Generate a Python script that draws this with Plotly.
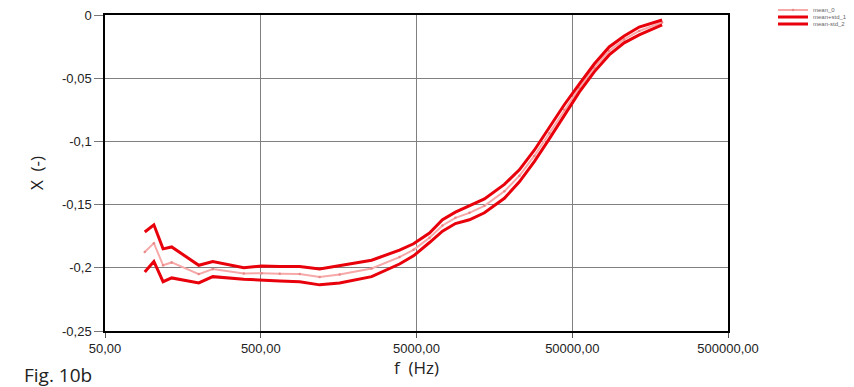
import plotly.graph_objects as go
import numpy as np

freq = [90, 103, 118, 134, 200, 246, 389, 507, 662, 889, 1194, 1604, 2575, 3890, 4785,
        6060, 7340, 8890, 10930, 13650, 18330, 22880, 28530, 35600, 44450, 55460,
        69200, 86300, 107700, 134500, 188800]
upper = [-0.1717, -0.166, -0.185, -0.1835, -0.198, -0.195, -0.200, -0.1985, -0.199, -0.199,
         -0.201, -0.1985, -0.194, -0.186, -0.181, -0.1725, -0.162, -0.156, -0.151, -0.1455,
         -0.134, -0.1225, -0.107, -0.089, -0.071, -0.0546, -0.0388, -0.0253, -0.0166,
         -0.0095, -0.004]
lower = [-0.2033, -0.195, -0.211, -0.208, -0.212, -0.207, -0.209, -0.210, -0.2105, -0.211,
         -0.2135, -0.212, -0.207, -0.197, -0.1905, -0.180, -0.171, -0.165, -0.162, -0.1565,
         -0.145, -0.132, -0.116, -0.098, -0.079, -0.061, -0.045, -0.0316, -0.022,
         -0.0158, -0.0079]
mean = [(u + l) / 2 for u, l in zip(upper, lower)]

xtick_vals = [50, 500, 5000, 50000, 500000]
xtick_text = ["50,00", "500,00", "5000,00", "50000,00", "500000,00"]
ytick_vals = [0, -0.05, -0.1, -0.15, -0.2, -0.25]
ytick_text = ["0", "-0,05", "-0,1", "-0,15", "-0,2", "-0,25"]

W, H = 846, 379  # page body has an 8px margin

fig = go.Figure()
fig.add_trace(go.Scatter(x=freq, y=mean, name="mean_0", mode="lines+markers",
                         line=dict(color="#f7a8a8", width=2),
                         marker=dict(size=2.5, color="#e88888"), legend="legend"))
fig.add_trace(go.Scatter(x=freq, y=upper, name="mean+std_1", mode="lines",
                         line=dict(color="#e8000b", width=3), legend="legend2"))
fig.add_trace(go.Scatter(x=freq, y=lower, name="mean-std_2", mode="lines",
                         line=dict(color="#e8000b", width=3), legend="legend3"))

leg_common = dict(xref="container", yref="container", xanchor="left", yanchor="middle",
                  font=dict(size=6, color="#666"), bgcolor="rgba(0,0,0,0)",
                  borderwidth=0, itemwidth=30)
leg_x = 765 / W
fig.update_layout(
    width=W, height=H,
    margin=dict(l=97, r=126, t=7, b=56, autoexpand=False),
    paper_bgcolor="white", plot_bgcolor="white",
    font=dict(family="Liberation Sans, Arial, sans-serif", size=12, color="#222"),
    showlegend=True,
    legend=dict(x=leg_x, y=1 - 2 / H, **leg_common),
    legend2=dict(x=leg_x, y=1 - 9 / H, **leg_common),
    legend3=dict(x=leg_x, y=1 - 16 / H, **leg_common),
    annotations=[
        dict(text="Fig. 10b", xref="paper", yref="paper", x=-0.1332, y=-0.14,
             xanchor="left", yanchor="middle", showarrow=False,
             font=dict(size=19, color="#222", family="Open Sans, sans-serif")),
    ],
)
fig.update_xaxes(type="log", range=[np.log10(50), np.log10(500000)],
                 tickvals=xtick_vals, ticktext=xtick_text,
                 showgrid=True, gridcolor="#808080", gridwidth=1,
                 showline=True, linecolor="black", linewidth=1.5, mirror=True,
                 ticks="outside", ticklen=5, tickcolor="#555",
                 tickfont=dict(size=13), ticklabeloverflow="allow",
                 title=dict(text="f  (Hz)", standoff=6,
                            font=dict(size=17, family="Open Sans, sans-serif")))
fig.update_yaxes(range=[-0.25, 0], tickvals=ytick_vals, ticktext=ytick_text,
                 showgrid=True, gridcolor="#808080", gridwidth=1,
                 showline=True, linecolor="black", linewidth=1.5, mirror=True,
                 ticks="outside", ticklen=9, tickcolor="#777", zeroline=False,
                 tickfont=dict(size=13), ticklabeloverflow="allow",
                 title=dict(text="X  (-)", standoff=14,
                            font=dict(size=17, family="Open Sans, sans-serif")))

fig.write_html("out.html")
